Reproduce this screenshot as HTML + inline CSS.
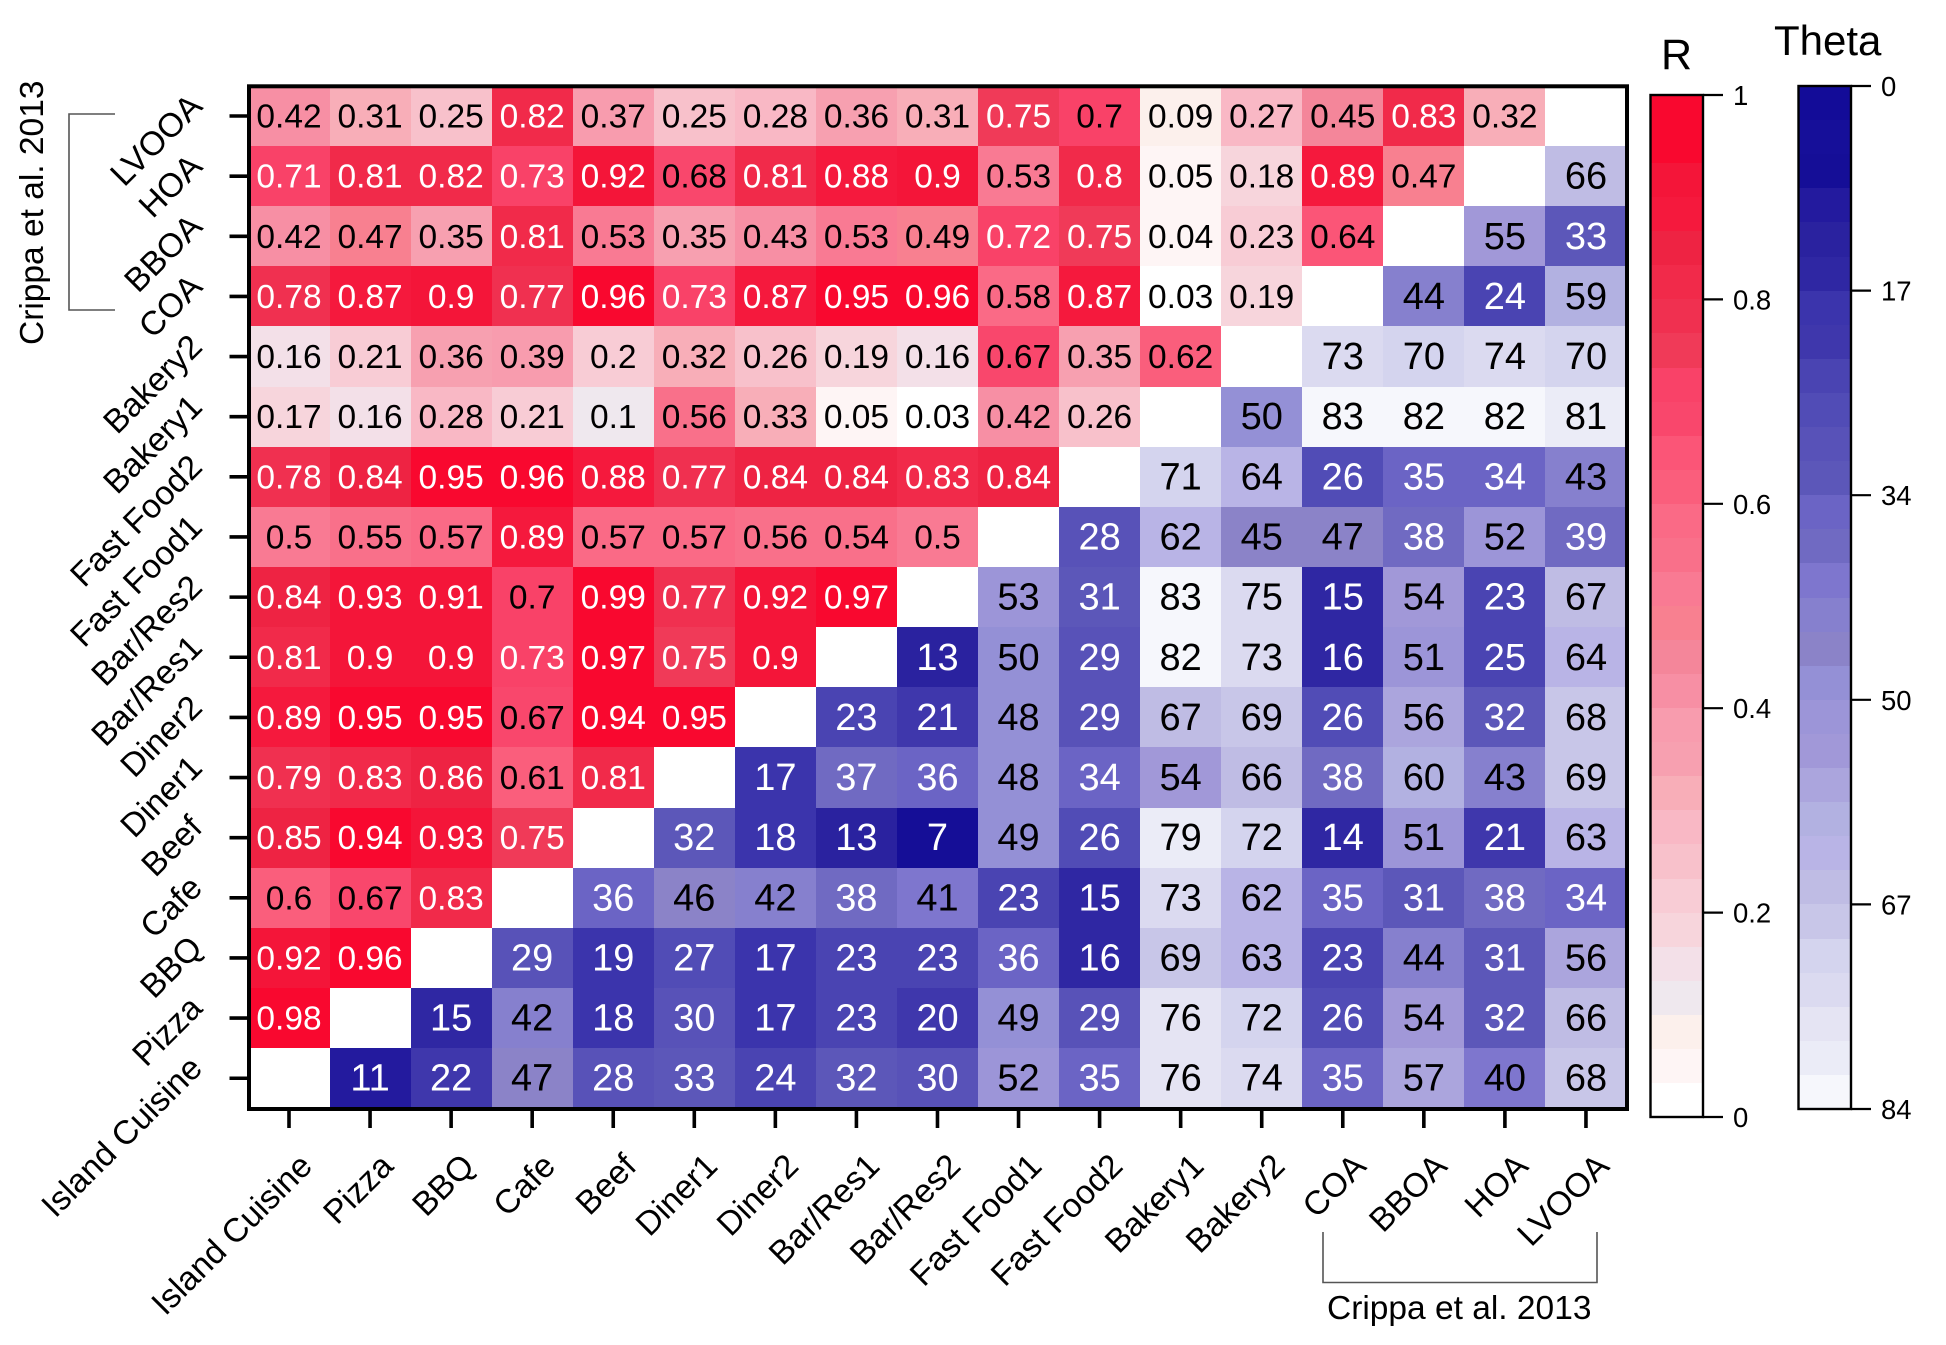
<!DOCTYPE html>
<html lang="en">
<head>
<meta charset="utf-8">
<title>Correlation heatmap</title>
<style>
html,body{margin:0;padding:0;background:#fff;width:1946px;height:1345px;overflow:hidden}
svg{display:block;font-family:"Liberation Sans",Arial,sans-serif}
</style>
</head>
<body>
<svg id="chart" xmlns="http://www.w3.org/2000/svg" width="1946" height="1345" viewBox="0 0 1946 1345">
  <rect x="0" y="0" width="1946" height="1345" fill="#fff"/>
  <g id="cells" shape-rendering="crispEdges"></g>
  <g id="cell-labels"></g>
  <rect x="249" y="86.3" width="1378" height="1022.7" fill="none" stroke="#000" stroke-width="4"/>
  <g id="axes"></g>
  <g id="r-bar"></g>
  <g id="theta-bar"></g>
  <text x="1661" y="69" font-size="43">R</text>
  <text x="1774" y="55" font-size="42">Theta</text>
  <path d="M115 114H69V310H115" fill="none" stroke="#555" stroke-width="1.6"/>
  <text transform="translate(43,345) rotate(-90)" font-size="33.5">Crippa et al. 2013</text>
  <path d="M1323 1232V1282.5H1597V1232" fill="none" stroke="#555" stroke-width="1.6"/>
  <text x="1327" y="1319" font-size="33.5">Crippa et al. 2013</text>
</svg>
<script>
const columnLabels = ["Island Cuisine","Pizza","BBQ","Cafe","Beef","Diner1","Diner2","Bar/Res1","Bar/Res2","Fast Food1","Fast Food2","Bakery1","Bakery2","COA","BBOA","HOA","LVOOA"];
const rowLabels = ["LVOOA","HOA","BBOA","COA","Bakery2","Bakery1","Fast Food2","Fast Food1","Bar/Res2","Bar/Res1","Diner2","Diner1","Beef","Cafe","BBQ","Pizza","Island Cuisine"];

// Upper-left triangle: correlation R. Row i (from the top) holds columns 0 .. 15-i.
const rValues = [
  [0.42,0.31,0.25,0.82,0.37,0.25,0.28,0.36,0.31,0.75,0.7,0.09,0.27,0.45,0.83,0.32],
  [0.71,0.81,0.82,0.73,0.92,0.68,0.81,0.88,0.9,0.53,0.8,0.05,0.18,0.89,0.47],
  [0.42,0.47,0.35,0.81,0.53,0.35,0.43,0.53,0.49,0.72,0.75,0.04,0.23,0.64],
  [0.78,0.87,0.9,0.77,0.96,0.73,0.87,0.95,0.96,0.58,0.87,0.03,0.19],
  [0.16,0.21,0.36,0.39,0.2,0.32,0.26,0.19,0.16,0.67,0.35,0.62],
  [0.17,0.16,0.28,0.21,0.1,0.56,0.33,0.05,0.03,0.42,0.26],
  [0.78,0.84,0.95,0.96,0.88,0.77,0.84,0.84,0.83,0.84],
  [0.5,0.55,0.57,0.89,0.57,0.57,0.56,0.54,0.5],
  [0.84,0.93,0.91,0.7,0.99,0.77,0.92,0.97],
  [0.81,0.9,0.9,0.73,0.97,0.75,0.9],
  [0.89,0.95,0.95,0.67,0.94,0.95],
  [0.79,0.83,0.86,0.61,0.81],
  [0.85,0.94,0.93,0.75],
  [0.6,0.67,0.83],
  [0.92,0.96],
  [0.98],
  []
];

// Lower-right triangle: theta angle. Row i holds the last i columns.
const thetaValues = [
  [],
  [66],
  [55,33],
  [44,24,59],
  [73,70,74,70],
  [50,83,82,82,81],
  [71,64,26,35,34,43],
  [28,62,45,47,38,52,39],
  [53,31,83,75,15,54,23,67],
  [13,50,29,82,73,16,51,25,64],
  [23,21,48,29,67,69,26,56,32,68],
  [17,37,36,48,34,54,66,38,60,43,69],
  [32,18,13,7,49,26,79,72,14,51,21,63],
  [36,46,42,38,41,23,15,73,62,35,31,38,34],
  [29,19,27,17,23,23,36,16,69,63,23,44,31,56],
  [15,42,18,30,17,23,20,49,29,76,72,26,54,32,66],
  [11,22,47,28,33,24,32,30,52,35,76,74,35,57,40,68]
];

const rTickValues = [0,0.2,0.4,0.6,0.8,1];
const rTickLabels = ["0","0.2","0.4","0.6","0.8","1"];
const thetaTickValues = [0,16.8,33.6,50.4,67.2,84];
const thetaTickLabels = ["0","17","34","50","67","84"];

// Colormaps, low value first for R, low value first for theta (dark blue = 0).
const rColors = ["#FFFFFF","#FEF5F5","#FCF0EC","#EFE8EE","#F3E0E8","#F7D5DC","#F8CCD5","#F8C1CB","#F9B8C5","#F8AEB8","#F7A0B0","#F89CAE","#F78FA4","#F4869A","#F88090","#F97A93","#F9708A","#FA6A86","#FA5E7C","#FB5577","#F9476C","#F94268","#F03A58","#F03050","#F12A4A","#EE2343","#F5193D","#F41539","#F9082F","#F9082F"];
const thetaColors = ["#130C98","#160F99","#150E97","#231A9E","#2A229F","#2F27A3","#3B34AC","#3F37AC","#4A44B2","#514CB6","#5852B8","#5C57B9","#6B64C5","#706AC2","#7E76CE","#8680CE","#8B83C8","#9490D6","#9C95D8","#A198D8","#ABA5DD","#B2B1E1","#B9B4E6","#BFBCE4","#C8C6E8","#D4D4EE","#DBDAF0","#E5E4F3","#EBECF7","#F6F7FC"];

const rMax = 1;
const thetaMax = 84;

const NS = "http://www.w3.org/2000/svg";
function make(tag, attrs, parent, text) {
  const el = document.createElementNS(NS, tag);
  for (const k in attrs) el.setAttribute(k, attrs[k]);
  if (text !== undefined) el.textContent = text;
  parent.appendChild(el);
  return el;
}

// Axis functions
const xCenter = c => 289 + 81.06 * c;
const yCenter = r => 116 + 60.14 * r;
const rBarY = v => 1117 - (v / rMax) * 1022;
const thetaBarY = v => 86 + (v / thetaMax) * 1023;
const rColor = v => rColors[Math.min(rColors.length - 1, Math.floor(v / rMax * rColors.length))];
const thetaColor = v => thetaColors[Math.min(thetaColors.length - 1, Math.floor(v / thetaMax * thetaColors.length))];

const cellsG = document.getElementById("cells");
const labelsG = document.getElementById("cell-labels");
const axesG = document.getElementById("axes");
const cellW = 81.06, cellH = 60.14;

function drawCell(row, col, value, fill, textFill, fontSize, dy) {
  const x0 = Math.round(xCenter(col) - cellW / 2);
  const x1 = Math.round(xCenter(col) + cellW / 2);
  const y0 = Math.round(yCenter(row) - cellH / 2);
  const y1 = Math.round(yCenter(row) + cellH / 2);
  const rect = make("rect", {x: x0, y: y0, width: x1 - x0, height: y1 - y0, fill: fill}, cellsG);
  
  
  const t = make("text", {x: xCenter(col), y: yCenter(row) + dy, "text-anchor": "middle", "font-size": fontSize, fill: textFill}, labelsG, String(value));
  
  
}

rValues.forEach((rowVals, row) => {
  rowVals.forEach((v, col) => {
    drawCell(row, col, v, rColor(v), v > 0.7 ? "#fff" : "#000", 33.5, 11.5);
  });
});
thetaValues.forEach((rowVals, row) => {
  rowVals.forEach((v, k) => {
    const col = columnLabels.length - rowVals.length + k;
    drawCell(row, col, v, thetaColor(v), v < 40 ? "#fff" : "#000", 38, 12.5);
  });
});

rowLabels.forEach((name, r) => {
  const y = yCenter(r);
  const tick = make("line", {x1: 229.5, x2: 247, y1: y, y2: y, stroke: "#000", "stroke-width": 3.6}, axesG);
  
  
  const ax = 204, ay = y - 8;
  const lab = make("text", {transform: `translate(${ax},${ay}) rotate(-45)`, "text-anchor": "end", "font-size": 33.5}, axesG, name);
  
  
});

columnLabels.forEach((name, c) => {
  const x = xCenter(c);
  const tick = make("line", {x1: x, x2: x, y1: 1110, y2: 1128, stroke: "#000", "stroke-width": 3.6}, axesG);
  
  
  const ax = x + 25, ay = 1168;
  const lab = make("text", {transform: `translate(${ax},${ay}) rotate(-45)`, "text-anchor": "end", "font-size": 33.5}, axesG, name);
  
  
});

function drawBar(group, x, w, colors, domainMax, yFn, tickVals, tickLabs, labelX) {
  const g = document.getElementById(group);
  const bands = colors.length;
  colors.forEach((col, i) => {
    const lo = domainMax * i / bands, hi = domainMax * (i + 1) / bands;
    const y0 = Math.min(yFn(lo), yFn(hi)), y1 = Math.max(yFn(lo), yFn(hi));
    const band = make("rect", {x: x, y: Math.round(y0), width: w, height: Math.round(y1) - Math.round(y0), fill: col, "shape-rendering": "crispEdges"}, g);
    
    
  });
  const y0 = yFn(0), y1 = yFn(domainMax);
  const outline = make("rect", {x: x, y: Math.min(y0, y1), width: w, height: Math.abs(y1 - y0), fill: "none", stroke: "#000", "stroke-width": 2.4}, g);
  
  
  tickVals.forEach((v, i) => {
    const y = yFn(v);
    const tick = make("line", {x1: x + w, x2: x + w + 20, y1: y, y2: y, stroke: "#000", "stroke-width": 2.2}, g);
    
    
    const t = make("text", {x: labelX, y: y + 10, "font-size": 27.5}, g, tickLabs[i]);
    
    
  });
}
drawBar("r-bar", 1650.5, 52.5, rColors, rMax, rBarY, rTickValues, rTickLabels, 1733);
drawBar("theta-bar", 1798.5, 52.5, thetaColors, thetaMax, thetaBarY, thetaTickValues, thetaTickLabels, 1881);
</script>
</body>
</html>
